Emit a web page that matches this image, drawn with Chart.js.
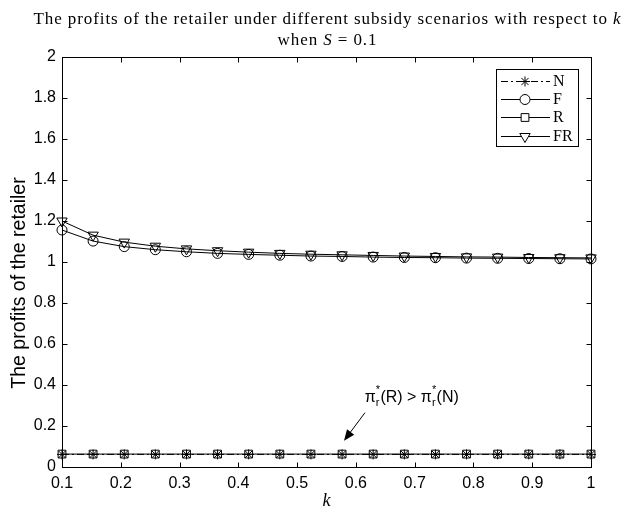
<!DOCTYPE html>
<html><head><meta charset="utf-8">
<script src="https://cdn.jsdelivr.net/npm/chart.js@4/dist/chart.umd.min.js"></script>
<style>html,body{margin:0;padding:0;background:#fff;}canvas{display:block;}</style>
</head><body>
<canvas id="c" width="628" height="514"></canvas>
<script>
const kValues = [0.1000, 0.1529, 0.2059, 0.2588, 0.3118, 0.3647, 0.4176, 0.4706, 0.5235,
                 0.5765, 0.6294, 0.6824, 0.7353, 0.7882, 0.8412, 0.8941, 0.9471, 1.0000];
const profitN  = [0.0615, 0.0615, 0.0615, 0.0615, 0.0615, 0.0615, 0.0615, 0.0615, 0.0615,
                  0.0615, 0.0615, 0.0615, 0.0615, 0.0615, 0.0615, 0.0615, 0.0615, 0.0615];
const profitF  = [1.156, 1.102, 1.075, 1.060, 1.050, 1.042, 1.037, 1.033, 1.029,
                  1.027, 1.024, 1.022, 1.021, 1.019, 1.018, 1.017, 1.016, 1.015];
const profitR  = [0.0630, 0.0630, 0.0630, 0.0630, 0.0630, 0.0630, 0.0630, 0.0630, 0.0630,
                  0.0630, 0.0630, 0.0630, 0.0630, 0.0630, 0.0630, 0.0630, 0.0630, 0.0630];
const profitFR = [1.200, 1.131, 1.097, 1.077, 1.064, 1.055, 1.048, 1.042, 1.038,
                  1.035, 1.032, 1.029, 1.027, 1.025, 1.024, 1.022, 1.021, 1.020];
const seriesNames = ['N', 'F', 'R', 'FR'];
const xTicks = [0.1, 0.2, 0.3, 0.4, 0.5, 0.6, 0.7, 0.8, 0.9, 1];
const yTicks = [0, 0.2, 0.4, 0.6, 0.8, 1, 1.2, 1.4, 1.6, 1.8, 2];
const xLabelText = 'k';
const yLabelText = 'The profits of the retailer';

const SERIF = '"Liberation Serif", "Times New Roman", serif';
const SANS = '"Liberation Sans", Arial, sans-serif';

function pts(vals) { return kValues.map((k, i) => ({x: k, y: vals[i]})); }

const base = {borderColor: '#000', borderWidth: 1, pointBorderColor: '#000',
  pointBackgroundColor: 'rgba(0,0,0,0)', pointBorderWidth: 1, clip: false, tension: 0};

const datasets = [
  Object.assign({}, base, {label: seriesNames[0], data: pts(profitN), borderDash: [7, 3, 2, 3], pointStyle: 'star', pointRadius: 5}),
  Object.assign({}, base, {label: seriesNames[1], data: pts(profitF), pointStyle: 'circle', pointRadius: 5}),
  Object.assign({}, base, {label: seriesNames[2], data: pts(profitR), pointStyle: 'rect', pointRadius: 5.5}),
  Object.assign({}, base, {label: seriesNames[3], data: pts(profitFR), pointStyle: 'triangle', pointRotation: 180, pointRadius: 6})
];

function drawParts(ctx, parts, cx, y, size, spacing) {
  ctx.letterSpacing = spacing + 'px';
  let total = 0;
  parts.forEach(p => { ctx.font = p.style + size + 'px ' + SERIF; p.w = ctx.measureText(p.t).width; total += p.w; });
  let x = cx - total / 2;
  parts.forEach(p => { ctx.font = p.style + size + 'px ' + SERIF; ctx.fillText(p.t, x, y); x += p.w; });
  ctx.letterSpacing = '0px';
}

const decor = {
  id: 'decor',
  afterDraw(chart) {
    const {ctx, chartArea: a, scales: {x, y}} = chart;
    ctx.save();
    ctx.fillStyle = '#000';
    ctx.strokeStyle = '#000';
    ctx.lineWidth = 1;
    // axes box
    const L = Math.round(a.left) + 0.5, R = Math.round(a.right) + 0.5;
    const T = Math.round(a.top) + 0.5, B = Math.round(a.bottom) + 0.5;
    ctx.strokeRect(L, T, R - L, B - T);
    const tl = 5;
    ctx.beginPath();
    xTicks.forEach(v => {
      const px = Math.round(x.getPixelForValue(v)) + 0.5;
      ctx.moveTo(px, B); ctx.lineTo(px, B - tl);
      ctx.moveTo(px, T); ctx.lineTo(px, T + tl);
    });
    yTicks.forEach(v => {
      const py = Math.round(y.getPixelForValue(v)) + 0.5;
      ctx.moveTo(L, py); ctx.lineTo(L + tl, py);
      ctx.moveTo(R, py); ctx.lineTo(R - tl, py);
    });
    ctx.stroke();

    // title: serif 17px, letter-spaced so the first line spans about 588px
    const cx = (a.left + a.right) / 2 + 1;
    ctx.textBaseline = 'alphabetic';
    ctx.textAlign = 'left';
    const line1 = [
      {t: 'The profits of the retailer under different subsidy scenarios with respect to ', style: ''},
      {t: 'k', style: 'italic '}
    ];
    const tsize = 17;
    let w0 = 0, n = 0;
    line1.forEach(p => { ctx.font = p.style + tsize + 'px ' + SERIF; w0 += ctx.measureText(p.t).width; n += p.t.length; });
    const sp = Math.max(0, (588 - w0) / n);
    drawParts(ctx, line1, cx, 24, tsize, sp);
    drawParts(ctx, [
      {t: 'when ', style: ''},
      {t: 'S', style: 'italic '},
      {t: ' = 0.1', style: ''}
    ], cx, 45, tsize, sp);

    // x label
    ctx.font = 'italic 18px ' + SERIF;
    ctx.textAlign = 'center';
    ctx.fillText(xLabelText, (a.left + a.right) / 2, 506);
    // y label
    ctx.save();
    ctx.translate(20, 283);
    ctx.rotate(-Math.PI / 2);
    ctx.font = '19.5px ' + SANS;
    ctx.textAlign = 'center';
    ctx.textBaseline = 'middle';
    ctx.fillText(yLabelText, 0, 0);
    ctx.restore();

    // legend
    const bx = a.right - 95, by = a.top + 12, bw = 82, bh = 77;
    ctx.fillStyle = '#fff';
    ctx.fillRect(bx, by, bw, bh);
    ctx.strokeRect(Math.round(bx) + 0.5, Math.round(by) + 0.5, bw, bh);
    chart.data.datasets.forEach((ds, i) => {
      const yy = Math.round(by + 11.5 + i * 18.4) + 0.5;
      ctx.save();
      ctx.strokeStyle = ds.borderColor;
      ctx.lineWidth = ds.borderWidth;
      ctx.setLineDash(ds.borderDash || []);
      ctx.beginPath();
      ctx.moveTo(bx + 5, yy); ctx.lineTo(bx + 54, yy);
      ctx.stroke();
      ctx.restore();
      ctx.fillStyle = '#fff';
      ctx.strokeStyle = '#000';
      ctx.lineWidth = 1;
      Chart.helpers.drawPoint(ctx, {pointStyle: ds.pointStyle, radius: ds.pointRadius, rotation: ds.pointRotation || 0, borderWidth: 1}, bx + 29, yy);
      ctx.fillStyle = '#000';
      ctx.font = '16px ' + SERIF;
      ctx.textAlign = 'left';
      ctx.textBaseline = 'middle';
      ctx.fillText(ds.label, bx + 57, yy + 0.5);
    });

    // annotation
    const tx = x.getPixelForValue(0.615), ty = y.getPixelForValue(0.3185);
    ctx.fillStyle = '#000';
    ctx.textBaseline = 'alphabetic';
    ctx.textAlign = 'left';
    let cxp = tx;
    const big = '16px ' + SANS, small = '11px ' + SANS;
    function piR(after) {
      ctx.font = big; ctx.fillText('π', cxp, ty); cxp += ctx.measureText('π').width;
      ctx.font = small; ctx.fillText('r', cxp, ty + 4); ctx.fillText('*', cxp, ty - 9);
      cxp += ctx.measureText('r').width + 1;
      ctx.font = big; ctx.fillText(after, cxp, ty); cxp += ctx.measureText(after).width;
    }
    piR('(R) > ');
    piR('(N)');
    const x0 = x.getPixelForValue(0.6155), y0 = y.getPixelForValue(0.265);
    const x1 = x.getPixelForValue(0.5798), y1 = y.getPixelForValue(0.128);
    const ang = Math.atan2(y1 - y0, x1 - x0);
    ctx.beginPath();
    ctx.moveTo(x0, y0); ctx.lineTo(x1 - 8 * Math.cos(ang), y1 - 8 * Math.sin(ang));
    ctx.stroke();
    ctx.beginPath();
    ctx.moveTo(x1, y1);
    ctx.lineTo(x1 - 11 * Math.cos(ang) + 4.5 * Math.sin(ang), y1 - 11 * Math.sin(ang) - 4.5 * Math.cos(ang));
    ctx.lineTo(x1 - 11 * Math.cos(ang) - 4.5 * Math.sin(ang), y1 - 11 * Math.sin(ang) + 4.5 * Math.cos(ang));
    ctx.closePath();
    ctx.fill();
    ctx.restore();
  }
};

new Chart(document.getElementById('c'), {
  type: 'line',
  data: {datasets},
  options: {
    responsive: false,
    animation: false,
    devicePixelRatio: 1,
    layout: {padding: {top: 57, right: 37, bottom: 0, left: 0}},
    plugins: {legend: {display: false}, title: {display: false}, tooltip: {enabled: false}},
    scales: {
      x: {
        type: 'linear', min: 0.1, max: 1,
        afterBuildTicks: s => { s.ticks = xTicks.map(v => ({value: v})); },
        afterFit: s => { s.height = 47; },
        grid: {display: false, drawTicks: false, tickLength: 0},
        border: {display: false},
        ticks: {autoSkip: false, maxRotation: 0, padding: 7, color: '#000', font: {family: SANS, size: 16},
          callback: v => String(v)}
      },
      y: {
        type: 'linear', min: 0, max: 2,
        afterBuildTicks: s => { s.ticks = yTicks.map(v => ({value: v})); },
        afterFit: s => { s.width = 62; },
        grid: {display: false, drawTicks: false, tickLength: 0},
        border: {display: false},
        ticks: {autoSkip: false, padding: 6, color: '#000', font: {family: SANS, size: 16},
          callback: v => String(v)}
      }
    }
  },
  plugins: [decor]
});
</script>
</body></html>
